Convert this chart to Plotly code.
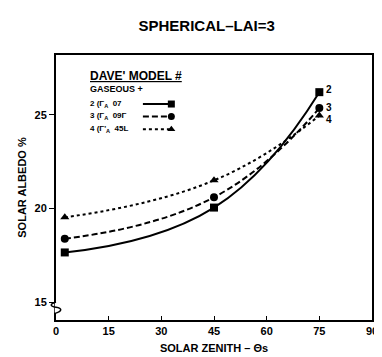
import plotly.graph_objects as go

zenith = [2.5, 45, 75]
albedo_2 = [17.66, 20.05, 26.2]
albedo_3 = [18.39, 20.6, 25.35]
albedo_4 = [19.53, 21.5, 24.95]
series_names = ["2", "3", "4"]
legend_labels = ["2 (Γ<sub>A</sub>  07", "3 (Γ<sub>A</sub>  09Γ", "4 (Γ'<sub>A</sub>  45L"]
x_ticks = [0, 15, 30, 45, 60, 75, 90]
y_ticks = [15, 20, 25]

FONT = "Liberation Sans"
styles = [
    dict(dash="solid", symbol="square"),
    dict(dash="6px,3px", symbol="circle"),
    dict(dash="dot", symbol="triangle-up"),
]
label_shift = [3, 1, -4]

fig = go.Figure()
for name, ys, st, sh in zip(series_names, [albedo_2, albedo_3, albedo_4], styles, label_shift):
    fig.add_trace(go.Scatter(
        x=zenith, y=ys, mode="lines+markers", name=name,
        line=dict(color="black", width=2, dash=st["dash"], shape="spline", smoothing=1.3),
        marker=dict(symbol=st["symbol"], size=8, color="black"),
        showlegend=False,
    ))
    fig.add_annotation(x=zenith[-1], y=ys[-1], text="<b>" + name + "</b>", showarrow=False,
                       xanchor="left", xshift=5, yshift=sh,
                       font=dict(family=FONT, size=10, color="black"))

# custom legend
fig.add_annotation(xref="paper", yref="paper", x=0.1, y=0.92, xanchor="left", yanchor="middle",
                   text="<b><u>DAVE' MODEL #</u></b>", showarrow=False,
                   font=dict(family=FONT, size=12, color="black"))
fig.add_annotation(xref="paper", yref="paper", x=0.1, y=0.872, xanchor="left", yanchor="middle",
                   text="<b>GASEOUS +</b>", showarrow=False,
                   font=dict(family=FONT, size=9, color="black"))
row_y = [0.815, 0.768, 0.72]
for lab, yy, st in zip(legend_labels, row_y, styles):
    fig.add_annotation(xref="paper", yref="paper", x=0.1, y=yy, xanchor="left", yanchor="middle",
                       text="<b>" + lab + "</b>", showarrow=False,
                       font=dict(family=FONT, size=8, color="black"))
    fig.add_shape(type="line", xref="paper", yref="paper", x0=0.275, x1=0.36, y0=yy, y1=yy,
                  line=dict(color="black", width=2, dash=st["dash"]))
    fig.add_trace(go.Scatter(x=[0.365], y=[yy], xaxis="x2", yaxis="y2", mode="markers",
                             marker=dict(symbol=st["symbol"], size=7, color="black"),
                             showlegend=False, hoverinfo="skip"))

# axis break squiggle on y axis
fig.add_shape(type="rect", xref="paper", yref="paper", x0=-0.004, x1=0.004, y0=0.028, y1=0.066,
              fillcolor="white", line=dict(width=0), layer="above")
fig.add_shape(type="path", xref="paper", yref="paper",
              path="M 0,0.068 C -0.02,0.06 -0.02,0.052 0,0.048 C 0.02,0.044 0.02,0.034 0,0.026",
              line=dict(color="black", width=1.5), layer="above")

fig.update_layout(
    width=382, height=357,
    margin=dict(l=48, r=12, t=47, b=39),
    paper_bgcolor="white", plot_bgcolor="white",
    title=dict(text="<b>SPHERICAL–LAI=3</b>", x=0.52, xanchor="center", y=0.95, yanchor="middle",
               font=dict(family=FONT, size=15, color="black")),
    xaxis=dict(range=[0, 90], tickvals=x_ticks, ticktext=["<b>%d</b>" % v for v in x_ticks],
               showgrid=False, zeroline=False, showline=True, linecolor="black", linewidth=2,
               mirror=True, ticks="inside", ticklen=4, tickcolor="black",
               tickfont=dict(family=FONT, size=11, color="black"),
               title=dict(text="<b>SOLAR ZENITH – Θs</b>", standoff=8,
                          font=dict(family=FONT, size=11, color="black"))),
    yaxis=dict(range=[14.06, 28.18], tickvals=y_ticks, ticktext=["<b>%d</b>" % v for v in y_ticks],
               showgrid=False, zeroline=False, showline=True, linecolor="black", linewidth=2,
               mirror=True, ticks="outside", ticklen=5, tickcolor="black",
               tickfont=dict(family=FONT, size=11, color="black"),
               title=dict(text="<b>SOLAR ALBEDO %</b>", standoff=6,
                          font=dict(family=FONT, size=11, color="black"))),
    xaxis2=dict(domain=[0, 1], range=[0, 1], overlaying="x", visible=False),
    yaxis2=dict(domain=[0, 1], range=[0, 1], overlaying="y", visible=False),
)

fig.write_html("out.html")
